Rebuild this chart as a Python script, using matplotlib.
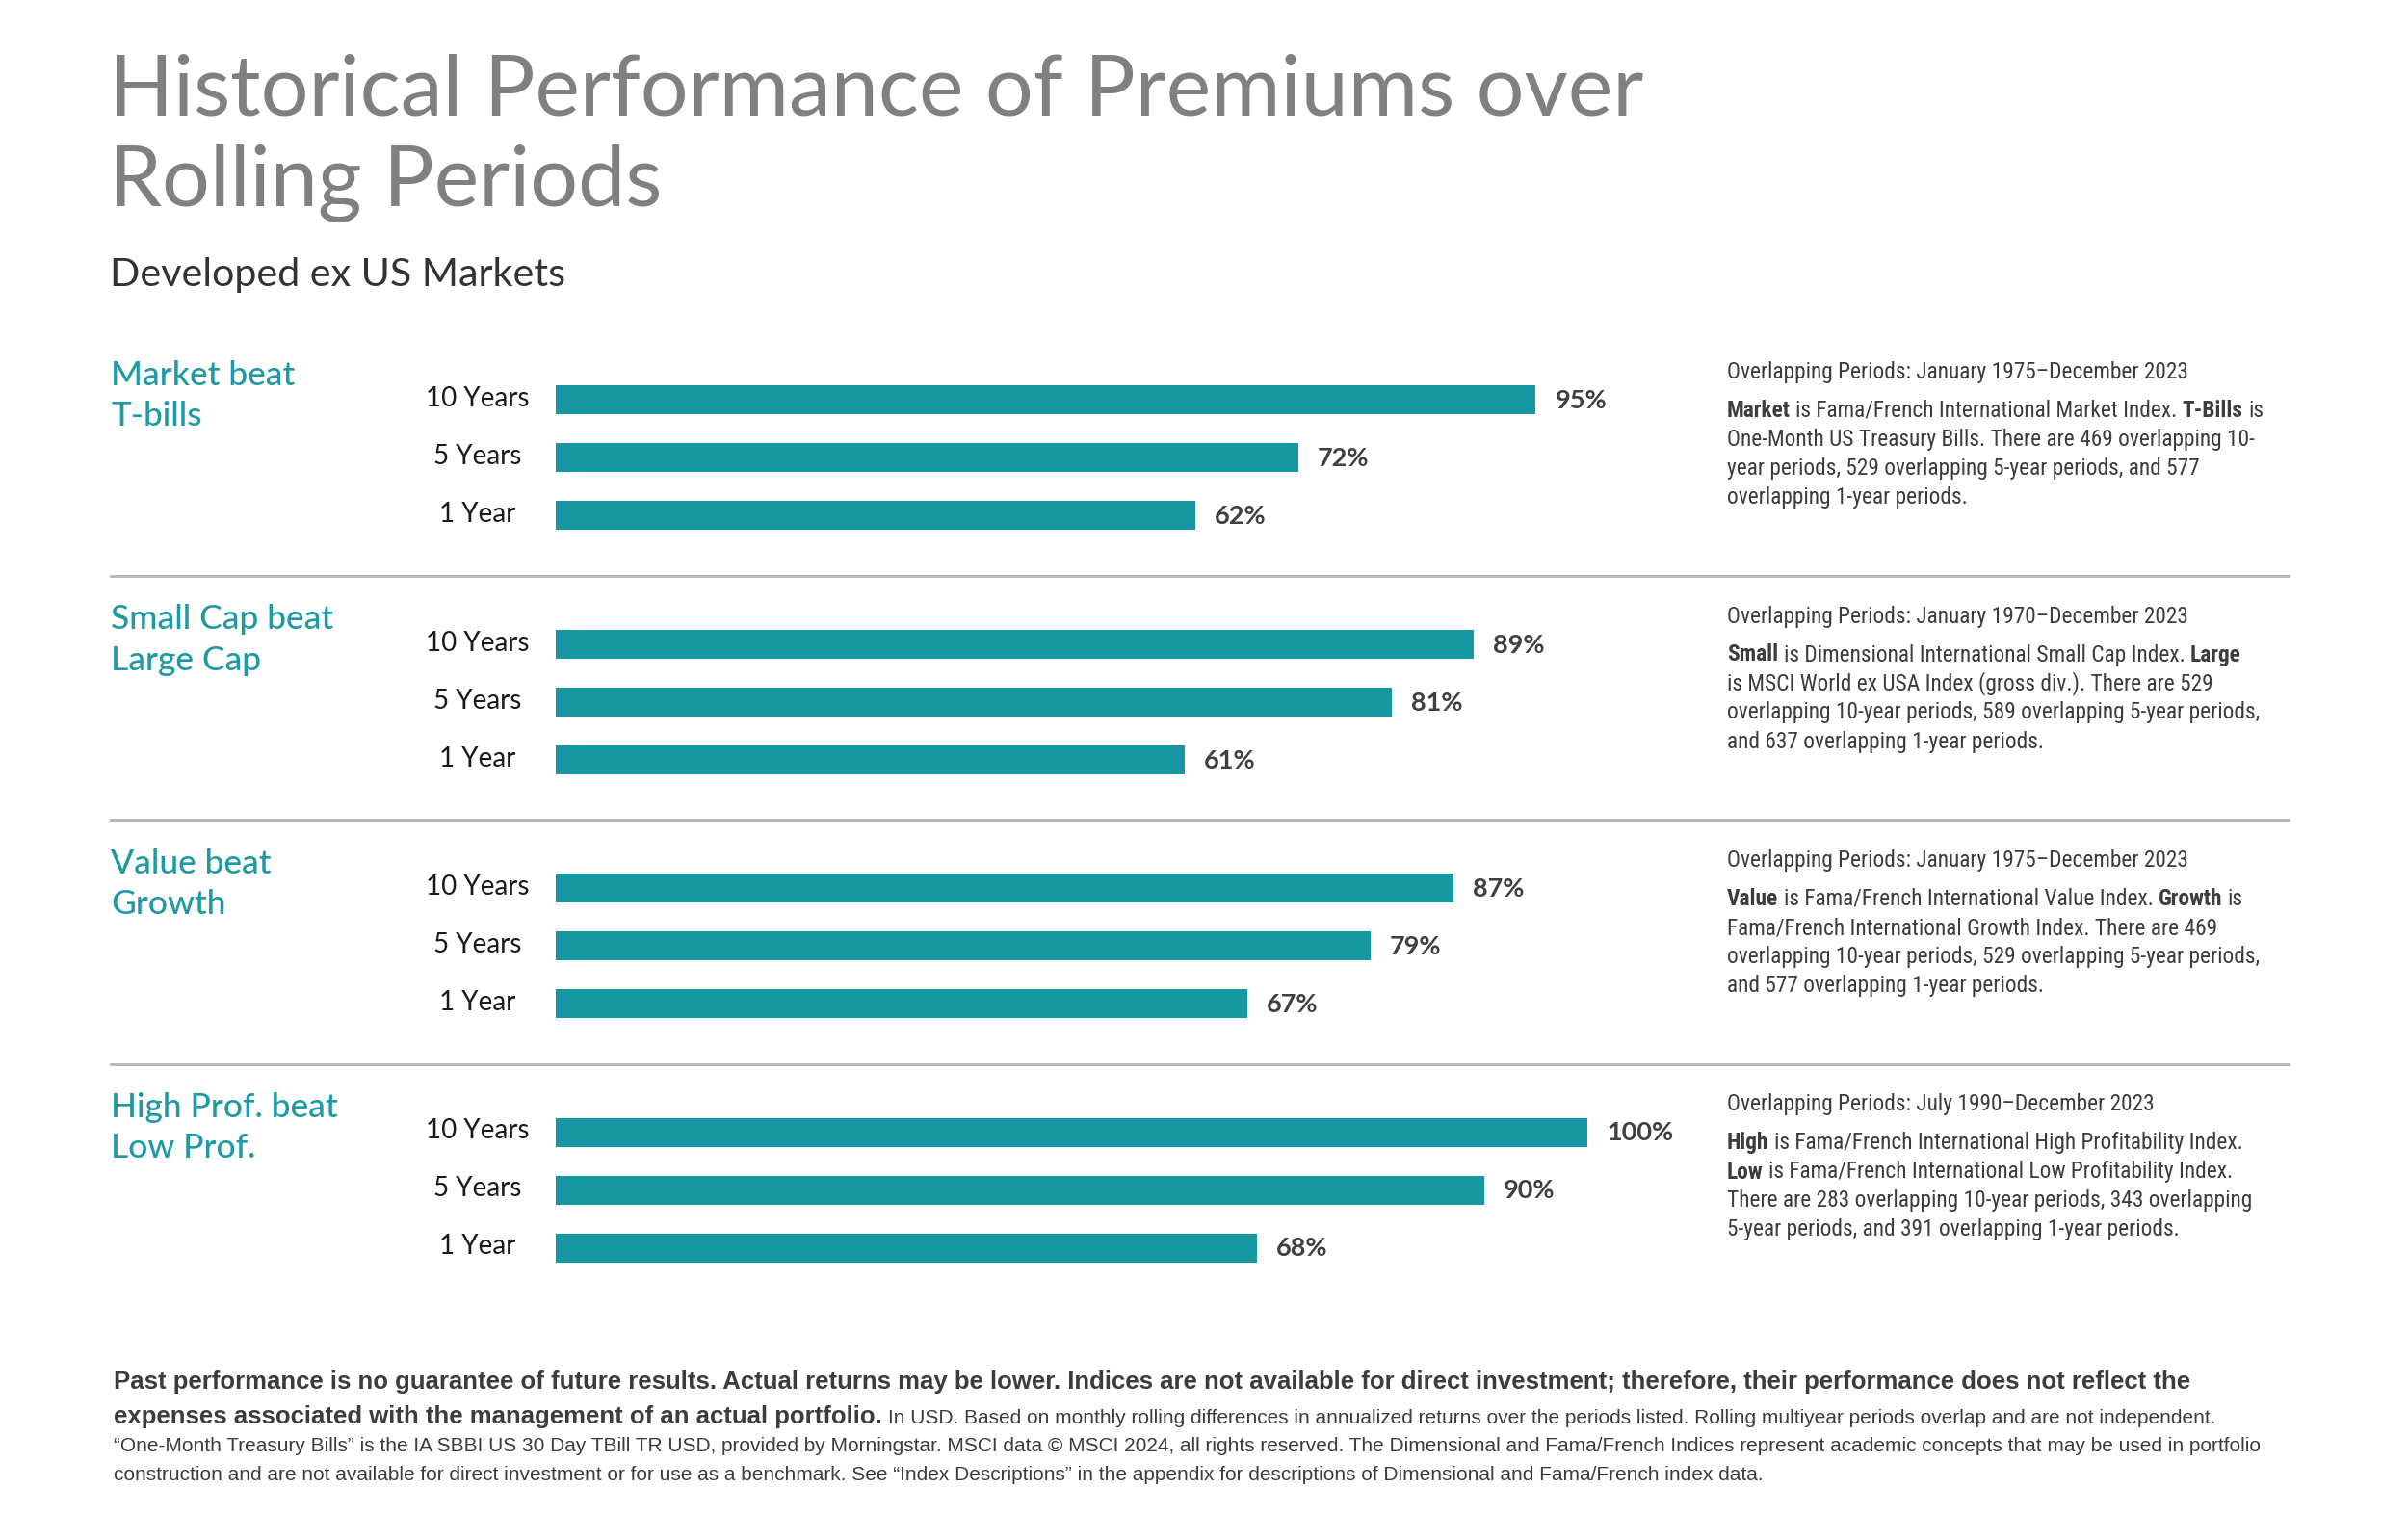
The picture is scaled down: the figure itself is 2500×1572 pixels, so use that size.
import matplotlib
matplotlib.use("Agg")
import matplotlib.pyplot as plt
from matplotlib import font_manager as fm
from matplotlib.lines import Line2D

# ---------------- data ----------------
panel_titles = [["Market beat", "T-bills"],
                ["Small Cap beat", "Large Cap"],
                ["Value beat", "Growth"],
                ["High Prof. beat", "Low Prof."]]
periods = ["10 Years", "5 Years", "1 Year"]
market_vs_tbills = [95, 72, 62]
small_vs_large = [89, 81, 61]
value_vs_growth = [87, 79, 67]
highprof_vs_lowprof = [100, 90, 68]
series = [market_vs_tbills, small_vs_large, value_vs_growth, highprof_vs_lowprof]

headers = ["Overlapping Periods: January 1975\u2013December 2023",
           "Overlapping Periods: January 1970\u2013December 2023",
           "Overlapping Periods: January 1975\u2013December 2023",
           "Overlapping Periods: July 1990\u2013December 2023"]
notes = [
    [[("Market", True), ("is Fama/French International Market Index.", False), ("T-Bills", True), ("is", False)],
     [("One-Month US Treasury Bills. There are 469 overlapping 10-", False)],
     [("year periods, 529 overlapping 5-year periods, and 577", False)],
     [("overlapping 1-year periods.", False)]],
    [[("Small", True), ("is Dimensional International Small Cap Index.", False), ("Large", True)],
     [("is MSCI World ex USA Index (gross div.). There are 529", False)],
     [("overlapping 10-year periods, 589 overlapping 5-year periods,", False)],
     [("and 637 overlapping 1-year periods.", False)]],
    [[("Value", True), ("is Fama/French International Value Index.", False), ("Growth", True), ("is", False)],
     [("Fama/French International Growth Index. There are 469", False)],
     [("overlapping 10-year periods, 529 overlapping 5-year periods,", False)],
     [("and 577 overlapping 1-year periods.", False)]],
    [[("High", True), ("is Fama/French International High Profitability Index.", False)],
     [("Low", True), ("is Fama/French International Low Profitability Index.", False)],
     [("There are 283 overlapping 10-year periods, 343 overlapping", False)],
     [("5-year periods, and 391 overlapping 1-year periods.", False)]],
]
footer_lines = [
    [("Past performance is no guarantee of future results. Actual returns may be lower. Indices are not available for direct investment; therefore, their performance does not reflect the", True)],
    [("expenses associated with the management of an actual portfolio.", True),
     ("In USD. Based on monthly rolling differences in annualized returns over the periods listed. Rolling multiyear periods overlap and are not independent.", False)],
    [("\u201cOne-Month Treasury Bills\u201d is the IA SBBI US 30 Day TBill TR USD, provided by Morningstar. MSCI data \u00a9 MSCI 2024, all rights reserved. The Dimensional and Fama/French Indices represent academic concepts that may be used in portfolio", False)],
    [("construction and are not available for direct investment or for use as a benchmark. See \u201cIndex Descriptions\u201d in the appendix for descriptions of Dimensional and Fama/French index data.", False)],
]
title_lines = ["Historical Performance of Premiums over", "Rolling Periods"]
subtitle = "Developed ex US Markets"

# ---------------- style ----------------
W, H, DPI = 2500, 1572, 100
TEAL = "#1797a2"
TEAL_TXT = "#1f9aa5"
TITLE_C = "#808080"
DARK = "#3c3c3c"

names = {f.name for f in fm.fontManager.ttflist}
NARROW, NARROW_STRETCH, NARROW_SIZE = "Liberation Sans", "normal", 14.2
for cand in ["Liberation Sans Narrow", "Arial Narrow", "Roboto Condensed",
             "Open Sans Condensed", "Noto Sans Condensed", "DejaVu Sans Condensed"]:
    if cand in names:
        NARROW, NARROW_SIZE = cand, 16.8
        break
SANS = "Liberation Sans"
LATO = "Lato" if "Lato" in names else "DejaVu Sans"
lato_weights = {f.weight for f in fm.fontManager.ttflist if f.name == LATO}
CAT_WEIGHT = "medium" if 500 in lato_weights else "normal"

fig = plt.figure(figsize=(W / DPI, H / DPI), dpi=DPI)
fig.patch.set_facecolor("white")
renderer = fig.canvas.get_renderer()


def fx(x):
    return x / W


def fy(y):
    return 1 - y / H


def space_width(size, family, weight="normal"):
    p1 = fig.text(0, 0, "x x", fontsize=size, family=family, weight=weight)
    p2 = fig.text(0, 0, "xx", fontsize=size, family=family, weight=weight)
    w = p1.get_window_extent(renderer).width - p2.get_window_extent(renderer).width
    p1.remove()
    p2.remove()
    return w


def seg_line(x, y, segs, sizes, family, color):
    """Draw a line of (text, bold) segments separated by single spaces."""
    cx = x
    for s, b in segs:
        size = sizes[1] if b else sizes[0]
        t = fig.text(fx(cx), fy(y), s, fontsize=size, family=family,
                     weight="bold" if b else "normal", color=color, ha="left", va="baseline")
        cx += t.get_window_extent(renderer).width + space_width(sizes[0], family)


# ---------------- title ----------------
fig.text(fx(113), fy(120), title_lines[0], fontsize=63.3, family=LATO, weight="normal",
         color=TITLE_C, va="baseline", ha="left")
fig.text(fx(113), fy(214), title_lines[1], fontsize=63.3, family=LATO, weight="normal",
         color=TITLE_C, va="baseline", ha="left")
fig.text(fx(114), fy(297), subtitle, fontsize=29.7, family=LATO, color="#333333",
         va="baseline", ha="left")

# ---------------- panels ----------------
PX2PT = 72 / DPI
bar_left, bar_right = 577, 1648
label_center = 496
for i, vals in enumerate(series):
    c = 475 + 253.5 * i
    ax = fig.add_axes([fx(bar_left), fy(c + 90), (bar_right - bar_left) / W, 180 / H])
    ax.barh(range(len(vals)), vals, height=0.5, color=TEAL)
    ax.set_xlim(0, 100)
    ax.set_ylim(2.5, -0.5)
    ax.axis("off")
    for j, (p, v) in enumerate(zip(periods, vals)):
        ax.annotate(p, xy=(0, j), xytext=((label_center - bar_left) * PX2PT, -7 * PX2PT),
                    textcoords="offset points", ha="center", va="baseline", fontsize=20,
                    family=LATO, color="#1a1a1a", annotation_clip=False)
        ax.annotate(f"{v}%", xy=(v, j), xytext=(20 * PX2PT, -9 * PX2PT), textcoords="offset points",
                    ha="left", va="baseline", fontsize=19.5, family=LATO, weight="bold",
                    color="#404040", annotation_clip=False)
    # panel title
    for k, line in enumerate(panel_titles[i]):
        fig.text(fx(115), fy(c - 75 + 42 * k), line, fontsize=25.5, family=LATO,
                 weight=CAT_WEIGHT, color=TEAL_TXT, va="baseline", ha="left")
    # notes
    fig.text(fx(1793), fy(c - 82), headers[i], fontsize=NARROW_SIZE, family=NARROW,
             color=DARK, va="baseline", ha="left")
    for k, segs in enumerate(notes[i]):
        seg_line(1793, c - 42 + 30 * k, segs, (NARROW_SIZE, NARROW_SIZE), NARROW, DARK)

# separators
for y in [598, 851, 1105]:
    fig.add_artist(Line2D([fx(115), fx(2376)], [fy(y), fy(y)], color="#b4b4b4", lw=2))

# ---------------- footer ----------------
foot_base = [1442, 1478, 1507, 1537]
for segs, yb in zip(footer_lines, foot_base):
    seg_line(118, yb, segs, (15.0, 18.5), SANS, DARK)

fig.savefig("out.png", dpi=DPI, facecolor="white")
